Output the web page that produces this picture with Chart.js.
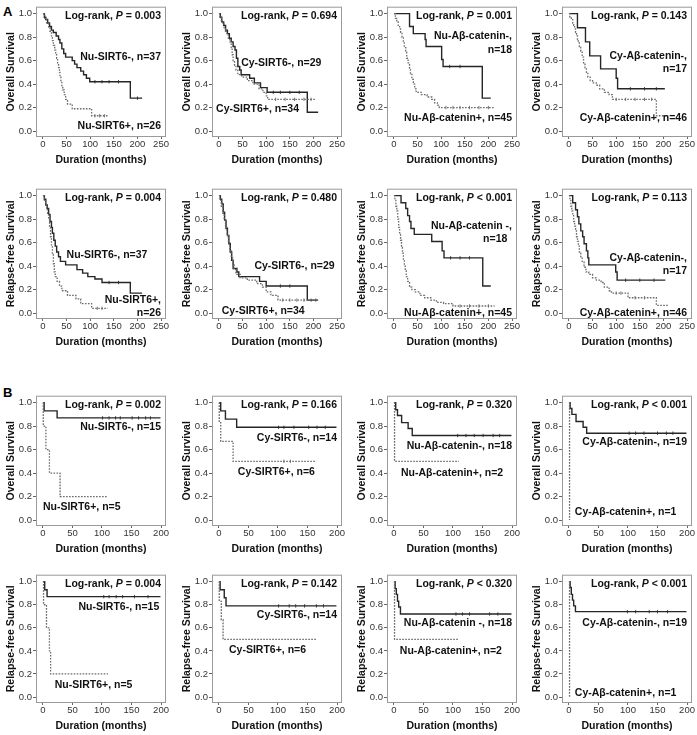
<!DOCTYPE html>
<html><head><meta charset="utf-8">
<script src="https://cdn.jsdelivr.net/npm/chart.js@4.4.0/dist/chart.umd.min.js"></script>
<style>
html,body{margin:0;padding:0;background:#fff;overflow:hidden}
#wrap{position:relative;width:697px;height:735px}
#wrap canvas{position:absolute}
.tag{position:absolute;font:bold 13px 'Liberation Sans',Arial,sans-serif;line-height:1;color:#000}
</style></head><body>
<div id="wrap">
  <div class="tag" style="left:3px;top:5px">A</div>
  <div class="tag" style="left:3px;top:386px">B</div>
</div>
<script>
/* Kaplan-Meier panels: cohort A (top two rows) and cohort B (bottom two rows) */

const X_TICKS_A = [0, 50, 100, 150, 200, 250];
const X_TICKS_B = [0, 50, 100, 150, 200];
const Y_TICKS   = [0, 0.2, 0.4, 0.6, 0.8, 1.0];

/* ── cohort A, overall survival : [months, survival] ── */
const OS_A_NU_SIRT6_NEG = [[0,1],[3,0.97],[6,0.95],[10,0.92],[14,0.89],[18,0.86],[22,0.84],[28,0.81],[33,0.78],[36,0.75],[40,0.70],[44,0.66],[48,0.63],[62,0.60],[67,0.57],[72,0.54],[80,0.51],[86,0.48],[92,0.45],[99,0.42],[185,0.28],[210,0.28]];
const OS_A_NU_SIRT6_POS = [[0,1],[4,0.96],[8,0.92],[12,0.88],[15,0.85],[18,0.81],[20,0.77],[22,0.73],[25,0.69],[27,0.65],[29,0.62],[31,0.58],[33,0.54],[35,0.50],[36,0.46],[38,0.42],[40,0.38],[42,0.35],[45,0.31],[48,0.27],[52,0.23],[62,0.19],[103,0.13],[137,0.13]];
const OS_A_CY_SIRT6_NEG = [[0,1],[3,0.97],[6,0.93],[10,0.90],[14,0.86],[18,0.83],[22,0.79],[26,0.76],[30,0.72],[34,0.69],[37,0.62],[40,0.55],[44,0.52],[47,0.48],[65,0.45],[75,0.41],[88,0.37],[102,0.33],[187,0.16],[210,0.16]];
const OS_A_CY_SIRT6_POS = [[0,1],[2,0.97],[5,0.94],[8,0.91],[11,0.88],[14,0.85],[17,0.82],[20,0.79],[23,0.76],[26,0.71],[28,0.65],[30,0.60],[33,0.56],[36,0.52],[40,0.48],[48,0.46],[60,0.43],[72,0.40],[85,0.36],[93,0.33],[100,0.30],[103,0.27],[205,0.27]];
const OS_A_NU_CAT_NEG   = [[0,1],[33,0.89],[41,0.83],[66,0.78],[68,0.72],[101,0.61],[104,0.55],[187,0.28],[205,0.28]];
const OS_A_NU_CAT_POS   = [[0,1],[3,0.96],[6,0.93],[9,0.89],[12,0.87],[14,0.84],[17,0.80],[20,0.76],[22,0.71],[25,0.67],[27,0.62],[30,0.58],[33,0.53],[35,0.49],[38,0.44],[41,0.40],[44,0.36],[47,0.33],[58,0.31],[70,0.29],[80,0.27],[86,0.24],[92,0.22],[96,0.20],[212,0.20]];
const OS_A_CY_CAT_NEG   = [[0,1],[18,0.88],[35,0.76],[44,0.64],[67,0.53],[100,0.45],[103,0.36],[203,0.36]];
const OS_A_CY_CAT_POS   = [[0,1],[2,0.97],[5,0.95],[8,0.92],[10,0.90],[12,0.87],[14,0.84],[16,0.81],[18,0.78],[20,0.75],[22,0.72],[25,0.68],[28,0.63],[31,0.58],[34,0.54],[37,0.50],[40,0.46],[45,0.43],[50,0.41],[58,0.39],[65,0.36],[75,0.33],[85,0.31],[92,0.27],[185,0.13],[210,0.13]];

/* ── cohort A, relapse-free survival ── */
const RFS_A_NU_SIRT6_NEG = [[0,1],[3,0.97],[6,0.92],[9,0.89],[12,0.84],[15,0.78],[18,0.73],[20,0.68],[23,0.62],[26,0.57],[29,0.52],[33,0.48],[37,0.44],[48,0.41],[72,0.37],[84,0.34],[95,0.31],[110,0.29],[125,0.26],[185,0.17],[210,0.17]];
const RFS_A_NU_SIRT6_POS = [[0,1],[3,0.96],[6,0.92],[8,0.88],[10,0.85],[12,0.81],[14,0.73],[16,0.65],[18,0.58],[20,0.50],[22,0.42],[24,0.35],[26,0.31],[30,0.27],[35,0.23],[40,0.19],[52,0.15],[70,0.12],[80,0.08],[103,0.04],[137,0.04]];
const RFS_A_CY_SIRT6_NEG = [[0,1],[3,0.97],[6,0.93],[9,0.86],[12,0.79],[15,0.72],[18,0.66],[21,0.59],[24,0.52],[27,0.45],[30,0.38],[38,0.35],[42,0.31],[86,0.27],[100,0.23],[187,0.11],[210,0.11]];
const RFS_A_CY_SIRT6_POS = [[0,1],[2,0.96],[5,0.91],[8,0.85],[11,0.79],[14,0.73],[17,0.66],[20,0.60],[23,0.53],[26,0.47],[29,0.41],[32,0.37],[36,0.33],[45,0.30],[60,0.28],[80,0.25],[92,0.22],[100,0.18],[110,0.15],[125,0.11],[210,0.11]];
const RFS_A_NU_CAT_NEG   = [[0,1],[15,0.94],[25,0.89],[29,0.83],[33,0.78],[36,0.72],[43,0.67],[80,0.61],[102,0.53],[106,0.47],[188,0.23],[205,0.23]];
const RFS_A_NU_CAT_POS   = [[0,1],[2,0.96],[4,0.91],[6,0.87],[8,0.80],[10,0.73],[12,0.67],[14,0.62],[16,0.56],[18,0.51],[20,0.45],[22,0.40],[24,0.36],[26,0.31],[29,0.27],[33,0.22],[38,0.20],[45,0.18],[55,0.15],[65,0.13],[78,0.11],[90,0.09],[105,0.08],[125,0.06],[213,0.06]];
const RFS_A_CY_CAT_NEG   = [[0,1],[8,0.94],[14,0.88],[18,0.82],[21,0.76],[25,0.70],[29,0.65],[32,0.59],[37,0.53],[40,0.47],[42,0.41],[99,0.35],[102,0.28],[204,0.28]];
const RFS_A_CY_CAT_POS   = [[0,1],[2,0.96],[4,0.91],[6,0.87],[8,0.83],[10,0.78],[12,0.74],[14,0.70],[16,0.65],[18,0.61],[20,0.57],[22,0.52],[25,0.48],[28,0.44],[32,0.39],[36,0.35],[42,0.33],[50,0.30],[58,0.28],[68,0.26],[75,0.22],[85,0.19],[90,0.17],[125,0.13],[185,0.065],[210,0.065]];

/* ── cohort B, overall survival ── */
const OS_B_NU_SIRT6_NEG = [[0,1],[2,0.93],[24,0.87],[199,0.87]];
const OS_B_NU_SIRT6_POS = [[0,1],[0.5,0.8],[5,0.6],[11,0.4],[29,0.2],[109,0.2]];
const OS_B_CY_SIRT6_NEG = [[0,1],[3,0.93],[11,0.86],[30,0.79],[199,0.79]];
const OS_B_CY_SIRT6_POS = [[0,1],[0.5,0.83],[3,0.67],[24,0.5],[165,0.5]];
const OS_B_NU_CAT_NEG   = [[0,1],[3,0.94],[6,0.89],[13,0.83],[24,0.78],[31,0.72],[199,0.72]];
const OS_B_NU_CAT_POS   = [[0,1],[1,0.5],[110,0.5]];
const OS_B_CY_CAT_NEG   = [[0,1],[2,0.95],[5,0.90],[12,0.84],[24,0.79],[30,0.74],[199,0.74]];
const OS_B_CY_CAT_POS   = [[0,1],[1,0]];

/* ── cohort B, relapse-free survival ── */
const RFS_B_NU_SIRT6_NEG = [[0,1],[3,0.93],[7,0.87],[199,0.87]];
const RFS_B_NU_SIRT6_POS = [[0,1],[1,0.8],[6,0.6],[11,0.4],[13,0.2],[110,0.2]];
const RFS_B_CY_SIRT6_NEG = [[0,1],[2,0.93],[9,0.86],[12,0.79],[199,0.79]];
const RFS_B_CY_SIRT6_POS = [[0,1],[0.5,0.83],[4,0.67],[7,0.5],[166,0.5]];
const RFS_B_NU_CAT_NEG   = [[0,1],[2,0.94],[4,0.89],[6,0.83],[8,0.78],[11,0.72],[199,0.72]];
const RFS_B_NU_CAT_POS   = [[0,1],[1,0.5],[110,0.5]];
const RFS_B_CY_CAT_NEG   = [[0,1],[2,0.95],[4,0.89],[6,0.84],[8,0.79],[11,0.74],[199,0.74]];
const RFS_B_CY_CAT_POS   = [[0,1],[1,0]];

/* ── censoring times (months) : [negative group, positive group] ── */
const CENS_OS_A   = [[[110,125,140,160,200],[110,120,130]], [[115,130,150,170],[120,140,160,180,195]],
                     [[118,140],[110,125,140,160,180,200]], [[130,160,185],[100,120,140,160,175]]];
const CENS_RFS_A  = [[[140,160],[115,125]], [[130,150],[135,150,165,180,195,205]],
                     [[120,140,160],[140,160,180,200]], [[120,150,180],[100,110,140,160]]];
const CENS_OS_B   = [[[101,112,123,131,151,162,174,182],[]], [[101,110,127,152,166,180],[110,121]],
                     [[108,122,136,151,168,179],[]], [[102,113,127,150,165,176],[]]];
const CENS_RFS_B  = [[[103,112,124,135,155,178],[]], [[101,119,130,145,165,177],[]],
                     [[105,116,128,162,176],[]], [[99,113,136,150,167],[]]];

/* ── p values and group labels ── */
const P_OS_A  = ['= 0.003', '= 0.694', '= 0.001', '= 0.143'];
const P_RFS_A = ['= 0.004', '= 0.480', '< 0.001', '= 0.113'];
const P_OS_B  = ['= 0.002', '= 0.166', '= 0.320', '< 0.001'];
const P_RFS_B = ['= 0.004', '= 0.142', '< 0.320', '< 0.001'];

/* [text, x (months), y (survival), align] */
const LBL_OS_A = [
  [['Nu-SIRT6-, n=37',250,0.627,'right'],['Nu-SIRT6+, n=26',250,0.04,'right']],
  [['Cy-SIRT6-, n=29',47,0.58,'left'],['Cy-SIRT6+, n=34',-6,0.19,'left']],
  [['Nu-Aβ-catenin-,',250,0.81,'right'],['n=18',250,0.69,'right'],['Nu-Aβ-catenin+, n=45',250,0.11,'right']],
  [['Cy-Aβ-catenin-,',250,0.64,'right'],['n=17',250,0.53,'right'],['Cy-Aβ-catenin+, n=46',250,0.11,'right']],
];
const LBL_RFS_A = [
  [['Nu-SIRT6-, n=37',50,0.49,'left'],['Nu-SIRT6+,',250,0.11,'right'],['n=26',250,0.0,'right']],
  [['Cy-SIRT6-, n=29',245,0.40,'right'],['Cy-SIRT6+, n=34',6,0.02,'left']],
  [['Nu-Aβ-catenin -,',250,0.74,'right'],['n=18',240,0.63,'right'],['Nu-Aβ-catenin+, n=45',250,0.0,'right']],
  [['Cy-Aβ-catenin-,',250,0.47,'right'],['n=17',250,0.36,'right'],['Cy-Aβ-catenin+, n=46',250,0.0,'right']],
];
const LBL_OS_B = [
  [['Nu-SIRT6-, n=15',200,0.79,'right'],['Nu-SIRT6+, n=5',0,0.11,'left']],
  [['Cy-SIRT6-, n=14',200,0.70,'right'],['Cy-SIRT6+, n=6',32,0.41,'left']],
  [['Nu-Aβ-catenin-, n=18',200,0.63,'right'],['Nu-Aβ-catenin+, n=2',12,0.40,'left']],
  [['Cy-Aβ-catenin-, n=19',200,0.66,'right'],['Cy-Aβ-catenin+, n=1',10,0.07,'left']],
];
const LBL_RFS_B = [
  [['Nu-SIRT6-, n=15',197,0.78,'right'],['Nu-SIRT6+, n=5',20,0.10,'left']],
  [['Cy-SIRT6-, n=14',200,0.71,'right'],['Cy-SIRT6+, n=6',17,0.41,'left']],
  [['Nu-Aβ-catenin -, n=18',200,0.64,'right'],['Nu-Aβ-catenin+, n=2',10,0.40,'left']],
  [['Cy-Aβ-catenin-, n=19',200,0.64,'right'],['Cy-Aβ-catenin+, n=1',10,0.03,'left']],
];

/* ── layout ── */
const FONT = "'Liberation Sans', Arial, sans-serif";
const COL_X = [36, 212, 387, 562];     // plot frame left
const ROW_Y = [6, 188, 395, 574];      // plot frame top
const ROW_H = [131, 131, 131, 129];    // plot frame height
const PLOT_W = 131, Y_AXIS_W = 36, X_AXIS_H = 30, PAD_TOP = 6, PAD_RIGHT = 4;

const survAt = (curve, t) => { let s = curve[0][1]; curve.forEach(([x, y]) => { if (x <= t) s = y; }); return s; };

const kmText = {
  id: 'kmText',
  afterDatasetsDraw(chart, args, o) {
    const { ctx, chartArea: a, scales: { x, y } } = chart;
    ctx.save();
    ctx.strokeStyle = '#9a9a9a'; ctx.lineWidth = 1;
    ctx.strokeRect(a.left + 0.5, a.top + 0.5, a.width - 1, a.height - 1);
    ctx.fillStyle = '#111';
    ctx.textBaseline = 'middle';
    const bold = `bold ${o.size}px ${FONT}`, ital = `italic bold ${o.size}px ${FONT}`;
    const parts = [['Log-rank, ', bold], ['P', ital], [' ' + o.p, bold]];
    let w = 0;
    parts.forEach(([t, f]) => { ctx.font = f; w += ctx.measureText(t).width; });
    let px = x.getPixelForValue(o.xEnd) - w;
    const py = y.getPixelForValue(0.975);
    ctx.textAlign = 'left';
    parts.forEach(([t, f]) => { ctx.font = f; ctx.fillText(t, px, py); px += ctx.measureText(t).width; });
    ctx.font = bold;
    o.labels.forEach(([t, xv, yv, al]) => {
      ctx.textAlign = al;
      ctx.fillText(t, x.getPixelForValue(xv), y.getPixelForValue(yv));
    });
    ctx.restore();
  }
};

function curveSet(curve, solid) {
  return {
    data: curve.map(([x, y]) => ({ x, y })),
    stepped: 'before',
    borderColor: solid ? '#262626' : '#6a6a6a',
    borderDash: solid ? [] : [1.6, 1.4],
    borderWidth: solid ? 1.4 : 1.3,
    pointRadius: 0, fill: false, tension: 0,
  };
}
function censSet(curve, times, solid) {
  return {
    data: times.map(t => ({ x: t, y: survAt(curve, t) })),
    showLine: false,
    pointStyle: 'line', rotation: 90, pointRadius: 1.7,
    pointBorderColor: solid ? '#444' : '#777', pointBorderWidth: 1,
  };
}

function drawPanel({ row, col, neg, pos, cens, p, labels, yTitle, xTicks }) {
  const h = ROW_H[row];
  const cv = document.createElement('canvas');
  cv.width = Y_AXIS_W + PLOT_W + PAD_RIGHT;
  cv.height = PAD_TOP + h + X_AXIS_H;
  cv.style.left = (COL_X[col] - Y_AXIS_W) + 'px';
  cv.style.top = (ROW_Y[row] - PAD_TOP) + 'px';
  document.getElementById('wrap').appendChild(cv);

  const xMax = xTicks[xTicks.length - 1];
  const pxPer = (PLOT_W - 12) / xMax;              // 0 sits 7px in, last tick 5px in
  const yPer = h - 13;
  const tickFont = { family: FONT, size: 9.5 };
  const titleFont = { family: FONT, size: 10.5, weight: 'bold' };

  new Chart(cv, {
    type: 'line',
    data: { datasets: [
      curveSet(pos, false), curveSet(neg, true),
      censSet(pos, cens[1], false), censSet(neg, cens[0], true),
    ] },
    options: {
      responsive: false, animation: false, events: [],
      layout: { padding: { top: PAD_TOP, right: PAD_RIGHT, left: 0, bottom: 0 } },
      plugins: {
        legend: { display: false }, tooltip: { enabled: false },
        kmText: { p, labels, xEnd: xMax, size: 10.5 },
      },
      scales: {
        x: {
          type: 'linear', min: -7 / pxPer, max: xMax + 5 / pxPer,
          afterFit: s => { s.height = X_AXIS_H; },
          afterBuildTicks: s => { s.ticks = xTicks.map(v => ({ value: v })); },
          grid: { drawOnChartArea: false, drawTicks: true, tickLength: 2, color: '#666' },
          border: { display: false },
          ticks: { padding: 0, color: '#333', font: tickFont, maxRotation: 0, autoSkip: false, callback: v => String(v) },
          title: { display: true, text: 'Duration (months)', color: '#111', font: titleFont, padding: { top: 0, bottom: 1 } },
        },
        y: {
          type: 'linear', min: -6 / yPer, max: 1 + 7 / yPer,
          afterFit: s => { s.width = Y_AXIS_W; },
          afterBuildTicks: s => { s.ticks = Y_TICKS.map(v => ({ value: v })); },
          grid: { drawOnChartArea: false, drawTicks: true, tickLength: 3, color: '#666' },
          border: { display: false },
          ticks: { padding: 1, color: '#333', font: tickFont, callback: v => v.toFixed(1) },
          title: { display: true, text: yTitle, color: '#111', font: titleFont, padding: { top: 5, bottom: 0 } },
        },
      },
    },
    plugins: [kmText],
  });
}

const ROWS = [
  { yTitle: 'Overall Survival',      xTicks: X_TICKS_A, P: P_OS_A,  L: LBL_OS_A,  C: CENS_OS_A,
    curves: [[OS_A_NU_SIRT6_NEG, OS_A_NU_SIRT6_POS], [OS_A_CY_SIRT6_NEG, OS_A_CY_SIRT6_POS], [OS_A_NU_CAT_NEG, OS_A_NU_CAT_POS], [OS_A_CY_CAT_NEG, OS_A_CY_CAT_POS]] },
  { yTitle: 'Relapse-free Survival', xTicks: X_TICKS_A, P: P_RFS_A, L: LBL_RFS_A, C: CENS_RFS_A,
    curves: [[RFS_A_NU_SIRT6_NEG, RFS_A_NU_SIRT6_POS], [RFS_A_CY_SIRT6_NEG, RFS_A_CY_SIRT6_POS], [RFS_A_NU_CAT_NEG, RFS_A_NU_CAT_POS], [RFS_A_CY_CAT_NEG, RFS_A_CY_CAT_POS]] },
  { yTitle: 'Overall Survival',      xTicks: X_TICKS_B, P: P_OS_B,  L: LBL_OS_B,  C: CENS_OS_B,
    curves: [[OS_B_NU_SIRT6_NEG, OS_B_NU_SIRT6_POS], [OS_B_CY_SIRT6_NEG, OS_B_CY_SIRT6_POS], [OS_B_NU_CAT_NEG, OS_B_NU_CAT_POS], [OS_B_CY_CAT_NEG, OS_B_CY_CAT_POS]] },
  { yTitle: 'Relapse-free Survival', xTicks: X_TICKS_B, P: P_RFS_B, L: LBL_RFS_B, C: CENS_RFS_B,
    curves: [[RFS_B_NU_SIRT6_NEG, RFS_B_NU_SIRT6_POS], [RFS_B_CY_SIRT6_NEG, RFS_B_CY_SIRT6_POS], [RFS_B_NU_CAT_NEG, RFS_B_NU_CAT_POS], [RFS_B_CY_CAT_NEG, RFS_B_CY_CAT_POS]] },
];

ROWS.forEach((r, row) => {
  r.curves.forEach(([neg, pos], col) => {
    drawPanel({ row, col, neg, pos, cens: r.C[col], p: r.P[col], labels: r.L[col], yTitle: r.yTitle, xTicks: r.xTicks });
  });
});
</script>
</body></html>
